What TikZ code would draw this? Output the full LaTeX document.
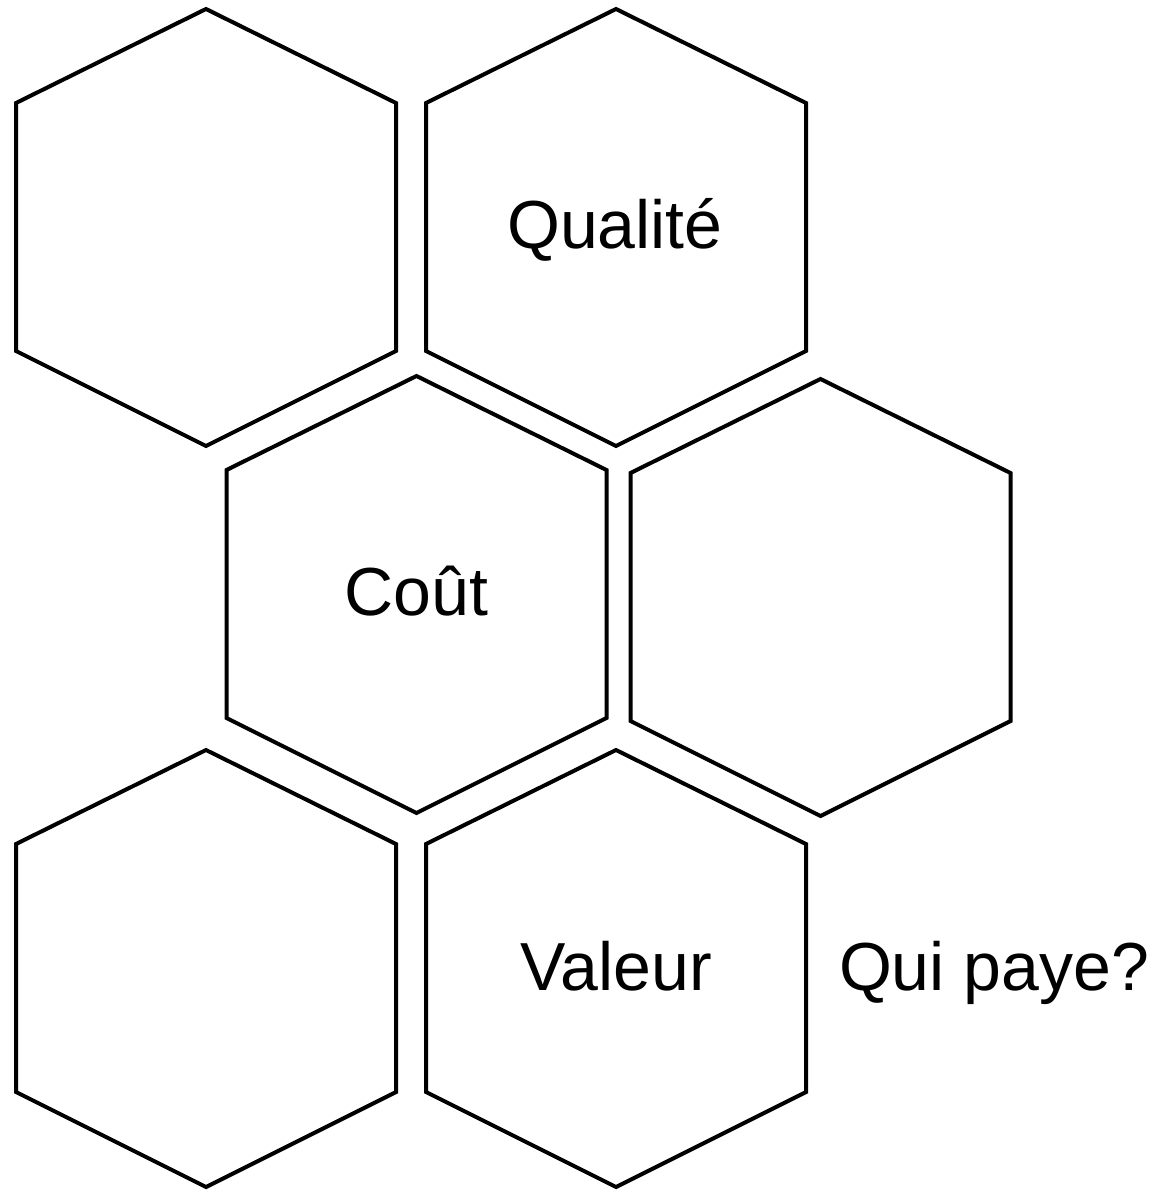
\documentclass[tikz,border=0pt]{standalone}
\usepackage{fontspec}
\setmainfont{Liberation Sans}
\begin{document}
\begin{tikzpicture}[x=1pt,y=-1pt,
  hexline/.style={draw=black,line width=4pt,line join=miter},
  lbl/.style={font=\fontsize{68}{80}\selectfont,anchor=base,inner sep=0pt},
  hexa/.pic={\draw[hexline] (0,-218.5) -- (190,-124.5) -- (190,123.5) -- (0,218.5) -- (-190,123.5) -- (-190,-124.5) -- cycle;}]
\useasboundingbox (0,0) rectangle (1162,1190);
\pic (h1) at (206,227.5) {hexa};
\pic (h2) at (616,227.5) {hexa};
\pic (h3) at (416.5,594.5) {hexa};
\pic (h4) at (820.5,597.5) {hexa};
\pic (h5) at (206,968.5) {hexa};
\pic (h6) at (616,968.5) {hexa};
\node[lbl] (qualite) at (615,248) {Qualité};
\node[lbl] (cout) at (416.5,615) {Coût};
\node[lbl] (valeur) at (616,990) {Valeur};
\node[lbl] (quipaye) at (994,990) {Qui paye?};
\end{tikzpicture}
\end{document}
